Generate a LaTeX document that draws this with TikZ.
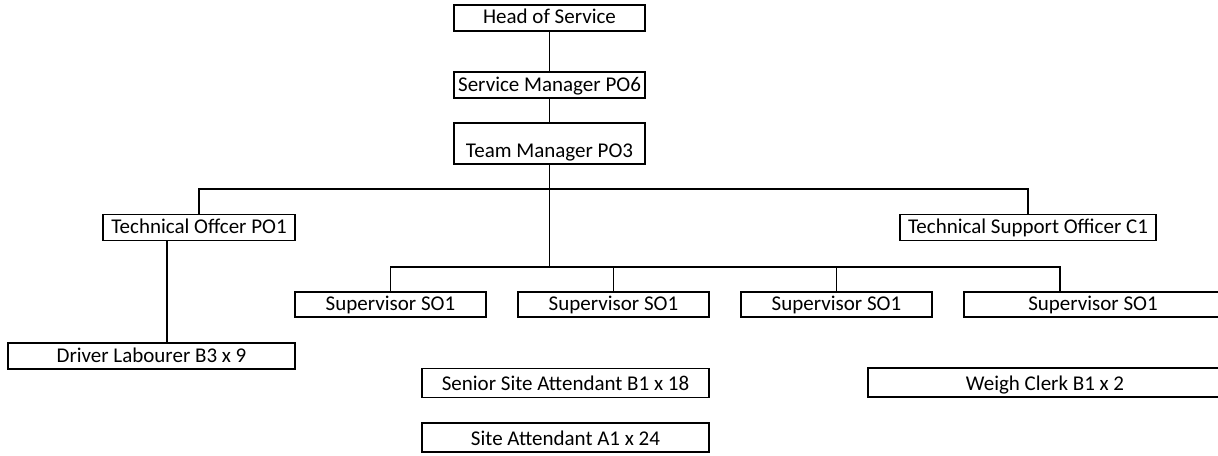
\documentclass[tikz,border=0pt]{standalone}
\usepackage{fontspec}
\setmainfont{Carlito}
\usepackage{xcolor}
\usepackage{tikz}

\begin{document}
\begin{tikzpicture}[x=0.5pt, y=-0.5pt, line width=0.9pt,
    post/.style={draw, rectangle, inner sep=0pt, text depth=3.5pt, text height=9.5pt, minimum width=95.5pt, font=\fontsize{10.5}{12}\selectfont},
    tall/.style={post, text height=11pt},
    short/.style={post, text height=9pt}]
            \useasboundingbox (0,0) rectangle (1218,455);
            \node[post] (head) at (549.5,18) {Head of Service};
            \node[post] (sm) at (549.5,85) {Service Manager PO6};
            \node[post, text height=17pt] (tm) at (549.5,143.5) {Team Manager PO3};
            \node[post, minimum width=96pt] (to) at (199,227.5) {Technical Offcer PO1};
            \node[post, minimum width=128pt] (tso) at (1028,227.5) {Technical Support Officer C1};
            \node[post, minimum width=143.5pt] (drv) at (151.5,356) {Driver Labourer B3 x 9};
            \node[short] (sup1) at (390.5,304.5) {Supervisor SO1};
            \node[short] (sup2) at (613.5,304.5) {Supervisor SO1};
            \node[short] (sup3) at (836.5,304.5) {Supervisor SO1};
            \node[short, minimum width=129pt] (sup4) at (1093,304.5) {Supervisor SO1};
            \node[tall, minimum width=143.5pt] (ssa) at (565.5,383) {Senior Site Attendant B1 x 18};
            \node[tall, minimum width=143.5pt] (sa) at (565.5,437.5) {Site Attendant A1 x 24};
            \node[tall, minimum width=177pt] (wc) at (1045,382.5) {Weigh Clerk B1 x 2};
            \coordinate (hub) at (549.5,189);
            \coordinate (hub2) at (549.5,267);
            
            \draw (head) -- (sm) -- (tm) -- (hub2);
            \draw (to.north) |- (hub) -| (tso.north);
            \draw ([xshift=-16pt]to.south) -- ([xshift=-16pt]to.south |- drv.north);
            \draw (sup1.north) |- (hub2) -| (sup3.north);
            \draw (sup2.north) -- (sup2.north |- hub2);
            \draw ([xshift=-16.5pt]sup4.north) |- (hub2);
        \end{tikzpicture}
\end{document}
